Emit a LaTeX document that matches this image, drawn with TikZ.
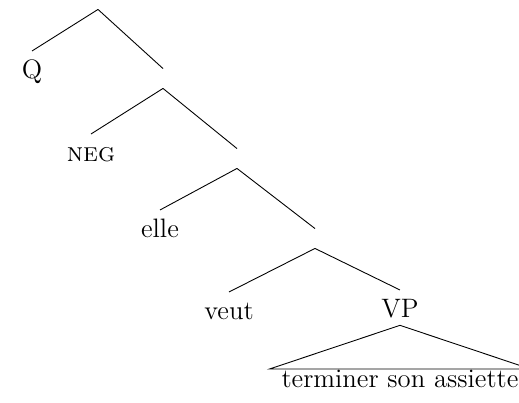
\documentclass[tikz,border=0pt]{standalone}

\begin{document}
\begin{tikzpicture}[x=0.45pt,y=-0.45pt,
  font=\fontsize{12}{14}\selectfont,
  bar/.style={inner sep=0pt,minimum height=8.55pt,minimum width=0pt},
  leaf/.style={anchor=north,inner sep=3pt,text height=9pt,text depth=0.5pt}]
  \useasboundingbox (0,0) rectangle (519,403);
  \node[bar] (n0) at (98,-0.5) {};
  \node[bar] (n1) at (163,78.5) {};
  \node[bar] (n2) at (237,158.5) {};
  \node[bar] (n3) at (315,238.5) {};
  \node[leaf] (q) at (32,51) {Q};
  \node[leaf] (neg) at (91,134) {\textsc{neg}};
  \node[leaf] (elle) at (160,210) {elle};
  \node[leaf] (veut) at (229,292) {veut};
  \node[leaf] (vp) at (400,290) {VP};
  \node[anchor=north,inner sep=0pt,text height=8pt,minimum width=117pt] (obj) at (400,369) {terminer son assiette};
  \draw (n0.south) -- (q.north);
  \draw (n0.south) -- (n1.north);
  \draw (n1.south) -- (neg.north);
  \draw (n1.south) -- (n2.north);
  \draw (n2.south) -- (elle.north);
  \draw (n2.south) -- (n3.north);
  \draw (n3.south) -- (veut.north);
  \draw (n3.south) -- (vp.north);
  \draw (vp.south) -- (obj.north west) -- (obj.north east) -- cycle;
\end{tikzpicture}
\end{document}
